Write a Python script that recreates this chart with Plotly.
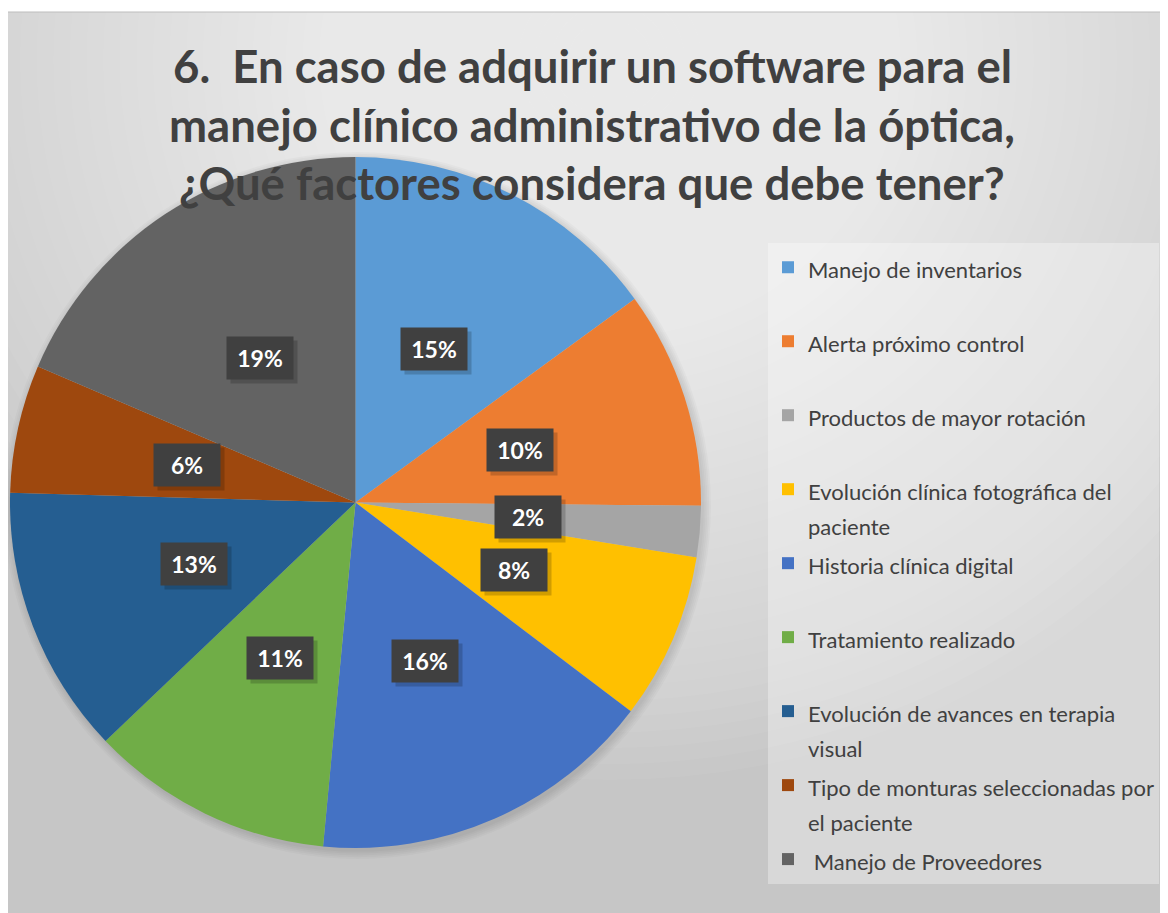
import math
import plotly.graph_objects as go

W, H = 1168, 913
OFF = 8  # page body margin in the browser

categories = [
    "Manejo de inventarios",
    "Alerta próximo control",
    "Productos de mayor rotación",
    "Evolución clínica fotográfica del<br>paciente",
    "Historia clínica digital",
    "Tratamiento realizado",
    "Evolución de avances en terapia<br>visual",
    "Tipo de monturas seleccionadas por<br>el paciente",
    " Manejo de Proveedores",
]
counts = [25, 17, 4, 13, 27, 19, 21, 10, 31]
colors = ["#5B9BD5", "#ED7D31", "#A5A5A5", "#FFC000", "#4472C4",
          "#70AD47", "#255E91", "#9E480E", "#636363"]
title_lines = [
    "6.  En caso de adquirir un software para el",
    "manejo clínico administrativo de la óptica,",
    "¿Qué factores considera que debe tener?",
]

def px(p):
    return (p - OFF) / W

def py(p):
    return 1 - (p - OFF) / H

# pie geometry in (screen) pixels
CX, CY, R = 355.5, 502.5, 345.5

LEG_FONT = 27.3   # sets the line pitch of the legend
TXT_FONT = 22     # visible legend text size

# pad legend names to equal 2-line slots (last one unpadded)
legend_names = []
for i, c in enumerate(categories):
    lines = c.split("<br>")
    body = "<br>".join(f"<span style='font-size:{TXT_FONT}px'>{ln}</span>" for ln in lines)
    if i < len(categories) - 1:
        body += "<br> " * (2 - len(lines))
    legend_names.append(body)
hover_names = [c.replace("<br>", " ").strip() for c in categories]

fig = go.Figure()
fig.add_trace(go.Pie(
    labels=legend_names,
    values=counts,
    customdata=hover_names,
    hovertemplate="%{customdata}<br>%{value} (%{percent})<extra></extra>",
    sort=False,
    direction="clockwise",
    rotation=0,
    marker=dict(colors=colors, line=dict(width=0)),
    textinfo="none",
    domain=dict(x=[px(CX - R), px(CX + R)], y=[py(CY + R), py(CY - R)]),
))

shapes = []
# background base
shapes.append(dict(type="rect", xref="paper", yref="paper", x0=px(7), x1=1, y0=0, y1=py(12),
                   fillcolor="#c6c6c6", line=dict(width=0), layer="below"))
# smooth radial gradient (light at top centre)
GX, GY = 610, 60
N = 44
for i in range(N):
    r = 720 - i * (720 - 40) / (N - 1)
    shapes.append(dict(type="circle", xref="paper", yref="paper",
                       x0=px(GX - r * 1.05), x1=px(GX + r * 1.05),
                       y0=py(GY + r), y1=py(GY - r),
                       fillcolor="white", opacity=0.045, line=dict(width=0), layer="below"))
# white band above chart area
shapes.append(dict(type="rect", xref="paper", yref="paper", x0=px(0), x1=1, y0=py(12), y1=py(0),
                   fillcolor="white", line=dict(width=0), layer="below"))
# border
shapes.append(dict(type="rect", xref="paper", yref="paper", x0=px(7), x1=1.01, y0=-0.01, y1=py(12),
                   line=dict(color="#bdbdbd", width=1), layer="below"))
# soft pie shadow
for k in range(5):
    rr = R + 8 - k * 1.8
    shapes.append(dict(type="circle", xref="paper", yref="paper",
                       x0=px(CX + 2 - rr), x1=px(CX + 2 + rr),
                       y0=py(CY + 3 + rr), y1=py(CY + 3 - rr),
                       fillcolor="black", opacity=0.025, line=dict(width=0), layer="below"))

annotations = []
# title lines
for i, t in enumerate(title_lines):
    annotations.append(dict(text=t, xref="paper", yref="paper", x=px(592), y=py(66 + i * 58),
                            showarrow=False, xanchor="center", yanchor="middle",
                            font=dict(family="Lato", size=45.5, color="#404040", weight="bold")))

# data labels computed from values
total = sum(counts)
cum = 0
for v in counts:
    theta = 2 * math.pi * (cum + v / 2) / total
    cum += v
    lx = CX + 0.5 * R * math.sin(theta)
    ly = CY - 0.5 * R * math.cos(theta)
    pct = f"{round(100 * v / total)}%"
    annotations.append(dict(text="", xref="paper", yref="paper", x=px(lx), y=py(ly),
                            showarrow=False, xanchor="center", yanchor="middle",
                            width=64, height=40, xshift=4, yshift=-4,
                            bgcolor="rgba(0,0,0,0.18)"))
    annotations.append(dict(text=pct, xref="paper", yref="paper", x=px(lx), y=py(ly),
                            showarrow=False, xanchor="center", yanchor="middle",
                            width=64, height=40, align="center", valign="middle",
                            bgcolor="#404040",
                            font=dict(family="Lato", size=23, color="white", weight="bold")))

fig.update_layout(
    width=W, height=H,
    margin=dict(l=0, r=0, t=0, b=0, autoexpand=False),
    paper_bgcolor="white",
    shapes=shapes,
    annotations=annotations,
    showlegend=True,
    legend=dict(
        x=px(768), y=py(243), xanchor="left", yanchor="top",
        bgcolor="rgba(255,255,255,0.32)",
        font=dict(family="Lato", size=LEG_FONT, color="#404040"),
        valign="top",
        traceorder="normal",
        itemclick=False, itemdoubleclick=False,
    ),
)

fig.write_html("out.html")
